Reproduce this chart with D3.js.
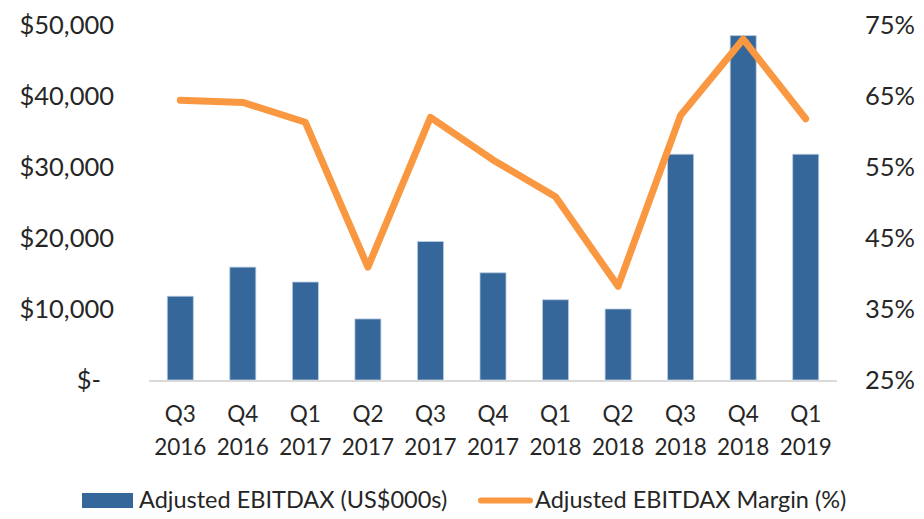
<!DOCTYPE html>
<html>
<head>
<meta charset="utf-8">
<script src="https://cdn.jsdelivr.net/npm/d3@7"></script>
<style>
  body { margin: 0; background: #fff; }
  text { font-family: Lato, "Open Sans", sans-serif; fill: #262626; }
</style>
</head>
<body>
<svg id="chart" width="924" height="519"></svg>
<script>
// quarters and values
const quarters = ["Q3 2016", "Q4 2016", "Q1 2017", "Q2 2017", "Q3 2017", "Q4 2017",
                  "Q1 2018", "Q2 2018", "Q3 2018", "Q4 2018", "Q1 2019"];
const ebitdax = [11800, 15900, 13800, 8600, 19500, 15100, 11300, 10000, 31800, 48500, 31800];
const margin = [64.4, 64.1, 61.3, 40.9, 62.0, 56.0, 50.8, 38.2, 62.3, 73.0, 61.8];
const leftTicks = [0, 10000, 20000, 30000, 40000, 50000];
const rightTicks = [25, 35, 45, 55, 65, 75];
const seriesNames = ["Adjusted EBITDAX (US$000s)", "Adjusted EBITDAX Margin (%)"];

const barColor = "#35679a";
const lineColor = "#f99841";

const svg = d3.select("#chart");
const plot = { left: 149, right: 837, top: 25, bottom: 380 };

let x = d3.scaleBand()
  .domain(quarters)
  .range([plot.left, plot.right])
  .paddingInner(0.584)
  .paddingOuter(0.292);

let y = d3.scaleLinear().domain([0, 50000]).range([plot.bottom, plot.top]);
let y2 = d3.scaleLinear().domain([25, 75]).range([plot.bottom, plot.top]);

// bars
svg.append("g").selectAll("rect")
  .data(quarters)
  .join("rect")
  .attr("x", d => x(d))
  .attr("width", x.bandwidth())
  .attr("y", (d, i) => y(ebitdax[i]))
  .attr("height", (d, i) => y(0) - y(ebitdax[i]))
  .attr("fill", barColor)
  .attr("stroke", "#b8cce0")
  .attr("stroke-width", 0.8);

// baseline
svg.append("line")
  .attr("x1", plot.left).attr("x2", plot.right)
  .attr("y1", plot.bottom + 1).attr("y2", plot.bottom + 1)
  .attr("stroke", "#d9d9d9").attr("stroke-width", 2);

// margin line
let line = d3.line()
  .x(d => x(d.q) + x.bandwidth() / 2)
  .y(d => y2(d.v));

svg.append("path")
  .datum(quarters.map((q, i) => ({ q: q, v: margin[i] })))
  .attr("d", line)
  .attr("fill", "none")
  .attr("stroke", lineColor)
  .attr("stroke-width", 7)
  .attr("stroke-linejoin", "round")
  .attr("stroke-linecap", "round");

// left axis
let fmtDollar = d => d === 0 ? "$-" : "$" + d3.format(",")(d);
let leftAxis = svg.append("g")
  .attr("transform", "translate(114,0)")
  .call(d3.axisLeft(y).tickValues(leftTicks).tickFormat(fmtDollar).tickSize(0).tickPadding(0));
leftAxis.select(".domain").remove();
leftAxis.selectAll("text")
  .style("font-size", "25.5px")
  .attr("dy", "0.35em")
  .attr("fill", "#262626");
leftAxis.selectAll("text").filter(d => d === 0).attr("dx", -13);

// right axis
let rightAxis = svg.append("g")
  .attr("transform", "translate(865,0)")
  .call(d3.axisRight(y2).tickValues(rightTicks).tickFormat(d => d + "%").tickSize(0).tickPadding(0));
rightAxis.select(".domain").remove();
rightAxis.selectAll("text")
  .style("font-size", "25.5px")
  .attr("dy", "0.35em")
  .attr("fill", "#262626");

// category labels, two lines each
let xl = svg.append("g").selectAll("text")
  .data(quarters)
  .join("text")
  .attr("text-anchor", "middle")
  .style("font-size", "22.5px");
xl.append("tspan")
  .attr("x", d => x(d) + x.bandwidth() / 2)
  .attr("y", 414).attr("dy", "0.35em")
  .text(d => d.split(" ")[0]);
xl.append("tspan")
  .attr("x", d => x(d) + x.bandwidth() / 2)
  .attr("y", 447).attr("dy", "0.35em")
  .text(d => d.split(" ")[1]);

// legend
let lg = svg.append("g");
lg.append("rect")
  .attr("x", 82).attr("y", 493).attr("width", 51).attr("height", 15)
  .attr("fill", barColor);
lg.append("text")
  .attr("x", 139).attr("y", 500).attr("dy", "0.35em")
  .style("font-size", "23.5px")
  .text(seriesNames[0]);
lg.append("line")
  .attr("x1", 481).attr("x2", 530).attr("y1", 500.5).attr("y2", 500.5)
  .attr("stroke", lineColor).attr("stroke-width", 6)
  .attr("stroke-linecap", "round");
lg.append("text")
  .attr("x", 535).attr("y", 500).attr("dy", "0.35em")
  .style("font-size", "23.5px")
  .text(seriesNames[1]);
</script>
</body>
</html>
